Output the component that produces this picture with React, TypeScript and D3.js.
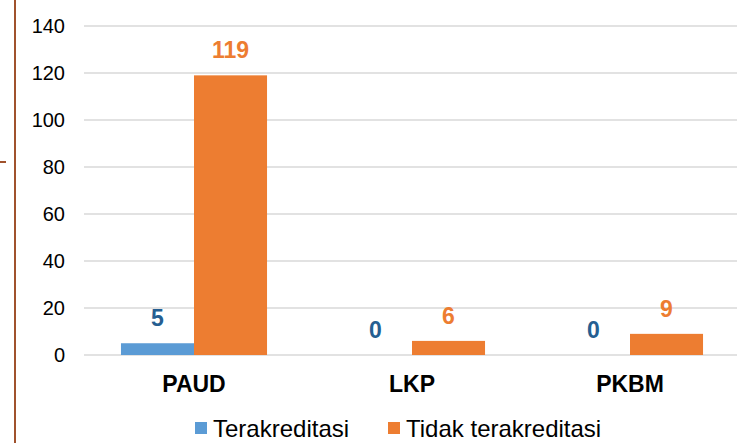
import React, { useRef, useEffect } from 'react';
import * as d3 from 'd3';

const categories = ['PAUD', 'LKP', 'PKBM'];
const seriesNames = ['Terakreditasi', 'Tidak terakreditasi'];
const terakreditasi = [5, 0, 0];
const tidakTerakreditasi = [119, 6, 9];
const yTicks = [0, 20, 40, 60, 80, 100, 120, 140];

const COLORS = ['#5B9BD5', '#ED7D31'];
const LABEL_COLORS = ['#255E91', '#ED7D31'];
const FONT = '"Liberation Sans", Arial, sans-serif';

const App: React.FC = () => {
  const svgRef = useRef<SVGSVGElement | null>(null);

  useEffect(() => {
    if (!svgRef.current) return;
    const width = 737;
    const height = 443;

    d3.select(svgRef.current).selectAll('*').remove();
    const svg = d3.select(svgRef.current)
      .attr('width', width)
      .attr('height', height)
      .style('font-family', FONT);

    const values = [terakreditasi, tidakTerakreditasi];

    // Scales
    const x0 = d3.scaleBand<string>()
      .domain(categories)
      .range([85, 739])
      .paddingInner(0.33)
      .paddingOuter(0.165);

    const x1 = d3.scaleBand<string>()
      .domain(seriesNames)
      .range([0, x0.bandwidth()])
      .padding(0);

    const y = d3.scaleLinear()
      .domain([0, 140])
      .range([355, 26]);

    // Grid lines
    svg.append('g')
      .selectAll('line')
      .data(yTicks)
      .enter()
      .append('line')
      .attr('x1', 84)
      .attr('x2', width)
      .attr('y1', d => y(d))
      .attr('y2', d => y(d))
      .attr('stroke', '#D9D9D9')
      .attr('stroke-width', 1.5);

    // Y tick labels
    svg.append('g')
      .selectAll('text')
      .data(yTicks)
      .enter()
      .append('text')
      .attr('x', 65)
      .attr('y', d => y(d) + 7)
      .attr('text-anchor', 'end')
      .attr('font-size', '20px')
      .attr('fill', '#000')
      .text(d => d);

    // Bars + labels
    seriesNames.forEach((name, si) => {
      const g = svg.append('g');
      g.selectAll('rect')
        .data(categories)
        .enter()
        .append('rect')
        .attr('x', c => (x0(c) || 0) + (x1(name) || 0))
        .attr('y', (c, i) => y(values[si][i]))
        .attr('width', x1.bandwidth())
        .attr('height', (c, i) => y(0) - y(values[si][i]))
        .attr('fill', COLORS[si]);

      g.selectAll('text')
        .data(categories)
        .enter()
        .append('text')
        .attr('x', c => (x0(c) || 0) + (x1(name) || 0) + x1.bandwidth() / 2)
        .attr('y', (c, i) => y(values[si][i]) - 17)
        .attr('text-anchor', 'middle')
        .attr('font-size', '23px')
        .attr('font-weight', 'bold')
        .attr('fill', LABEL_COLORS[si])
        .text((c, i) => values[si][i]);
    });

    // Category labels
    svg.append('g')
      .selectAll('text')
      .data(categories)
      .enter()
      .append('text')
      .attr('x', c => (x0(c) || 0) + x0.bandwidth() / 2)
      .attr('y', 392)
      .attr('text-anchor', 'middle')
      .attr('font-size', '23px')
      .attr('font-weight', 'bold')
      .attr('fill', '#000')
      .text(c => c);

    // Legend
    const legendX = [195, 388];
    seriesNames.forEach((name, si) => {
      svg.append('rect')
        .attr('x', legendX[si])
        .attr('y', 422)
        .attr('width', 12)
        .attr('height', 12)
        .attr('fill', COLORS[si]);
      svg.append('text')
        .attr('x', legendX[si] + 18)
        .attr('y', 437)
        .attr('font-size', '24px')
        .attr('fill', '#000')
        .text(name);
    });

    // Brown frame line on the left
    svg.append('line')
      .attr('x1', 15)
      .attr('x2', 15)
      .attr('y1', 0)
      .attr('y2', height)
      .attr('stroke', '#A0522D')
      .attr('stroke-width', 2);
    svg.append('line')
      .attr('x1', 0)
      .attr('x2', 6)
      .attr('y1', 162)
      .attr('y2', 162)
      .attr('stroke', '#A0522D')
      .attr('stroke-width', 2);
  }, []);

  return (
    <svg
      ref={svgRef}
      style={{ position: 'absolute', left: 0, top: 0, background: '#fff' }}
    />
  );
};

export default App;
